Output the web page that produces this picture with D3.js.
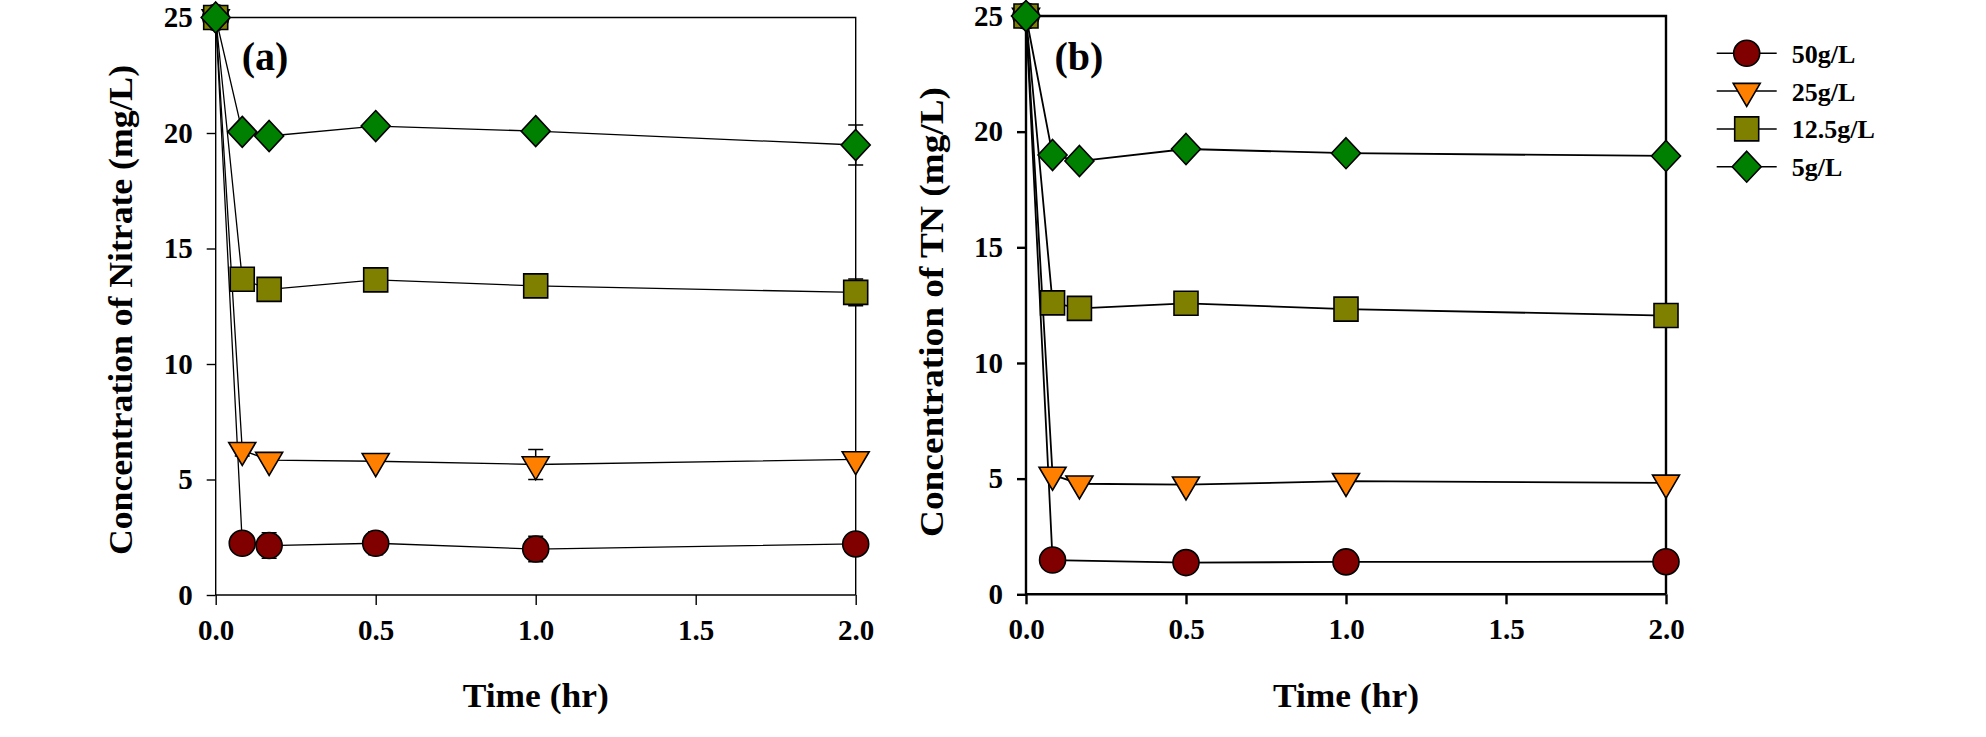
<!DOCTYPE html>
<html>
<head>
<meta charset="utf-8">
<script src="https://cdn.jsdelivr.net/npm/d3@7"></script>
<style>
  html, body { margin: 0; padding: 0; background: #fff; }
  svg { display: block; }
  text { font-family: "Liberation Serif", "Times New Roman", serif; font-weight: bold; fill: #000; }
</style>
</head>
<body>
<svg id="chart" width="1986" height="737"></svg>
<script>
// ---------- data ----------
const times = [0, 0.083, 0.167, 0.5, 1.0, 2.0];
const seriesNames = ["50g/L", "25g/L", "12.5g/L", "5g/L"];
const seriesColors = ["#800000", "#FF8000", "#808000", "#008000"];
const seriesSymbols = ["circle", "triangle", "square", "diamond"];

// (a) Nitrate
const nitrate50  = [25, 2.24, 2.14, 2.24, 1.99, 2.21];
const nitrate25  = [25, 6.27, 5.84, 5.79, 5.65, 5.87];
const nitrate125 = [25, 13.67, 13.23, 13.64, 13.38, 13.10];
const nitrate5   = [25, 20.05, 19.87, 20.30, 20.08, 19.48];
const nitrateErr50  = [0, 0, 0.55, 0.5, 0.55, 0];
const nitrateErr25  = [0, 0.25, 0, 0, 0.65, 0];
const nitrateErr125 = [0, 0, 0, 0, 0, 0.58];
const nitrateErr5   = [0, 0, 0, 0, 0, 0.87];

// (b) TN
const tn50  = [25, 1.48, null, 1.37, 1.40, 1.41];
const tn25  = [25, 5.16, 4.78, 4.74, 4.89, 4.82];
const tn125 = [25, 12.60, 12.36, 12.58, 12.33, 12.05];
const tn5   = [25, 18.99, 18.73, 19.25, 19.07, 18.95];

const xTicks = [0, 0.5, 1.0, 1.5, 2.0];
const yTicks = [0, 5, 10, 15, 20, 25];

// ---------- drawing ----------
const svg = d3.select("#chart");

function symbolPath(kind) {
  switch (kind) {
    case "circle":   return "M13,0A13,13 0 1,1 -13,0A13,13 0 1,1 13,0Z";
    case "triangle": return "M-13.5,-7.7L13.5,-7.7L0,15.3Z";
    case "square":   return "M-12,-12L12,-12L12,12L-12,12Z";
    case "diamond":  return "M0,-15.5L14.5,0L0,15.5L-14.5,0Z";
  }
}

function drawPanel(cfg) {
  const g = svg.append("g");
  const x = d3.scaleLinear().domain([0, 2]).range([cfg.x0, cfg.x1]);
  const y = d3.scaleLinear().domain([0, 25]).range([cfg.y0, cfg.y1]);

  // frame (top + right)
  g.append("path")
    .attr("d", `M${cfg.x0},${cfg.y1}H${cfg.x1}V${cfg.y0}`)
    .attr("fill", "none").attr("stroke", "#000").attr("stroke-width", cfg.frameW);

  // axes
  const xAxis = d3.axisBottom(x).tickValues(xTicks).tickSize(10).tickPadding(8)
    .tickFormat(d3.format(".1f"));
  const yAxis = d3.axisLeft(y).tickValues(yTicks).tickSize(9).tickPadding(14)
    .tickFormat(d3.format("d"));
  const gx = g.append("g").attr("transform", `translate(0,${cfg.y0})`).call(xAxis);
  const gy = g.append("g").attr("transform", `translate(${cfg.x0},0)`).call(yAxis);
  [gx, gy].forEach(a => {
    a.select(".domain").attr("stroke", "#000").attr("stroke-width", cfg.frameW);
    a.selectAll(".tick line").attr("stroke", "#000").attr("stroke-width", cfg.frameW);
    a.selectAll(".tick text").style("font-size", "29px").style("font-family", "Liberation Serif").style("font-weight", "bold");
  });
  gx.select(".domain").attr("d", `M${cfg.x0},0H${cfg.x1}`);
  gy.select(".domain").attr("d", `M0,${cfg.y0}V${cfg.y1}`);
  gx.selectAll(".tick text").attr("dy", "0.92em");

  // series
  cfg.series.forEach((vals, si) => {
    const pts = times.map((t, i) => ({ t, v: vals[i], e: cfg.errs ? cfg.errs[si][i] : 0 }))
      .filter(p => p.v !== null);
    const line = d3.line().x(p => x(p.t)).y(p => y(p.v));
    g.append("path").datum(pts).attr("d", line)
      .attr("fill", "none").attr("stroke", "#000").attr("stroke-width", cfg.lineW);
    // error bars
    pts.filter(p => p.e > 0).forEach(p => {
      const cx = x(p.t), yt = y(p.v + p.e), yb = y(p.v - p.e);
      g.append("path")
        .attr("d", `M${cx},${yt}V${yb}M${cx - 7.5},${yt}H${cx + 7.5}M${cx - 7.5},${yb}H${cx + 7.5}`)
        .attr("fill", "none").attr("stroke", "#000").attr("stroke-width", 1.5);
    });
    g.selectAll(null).data(pts).enter().append("path")
      .attr("transform", p => `translate(${x(p.t)},${y(p.v)})`)
      .attr("d", symbolPath(seriesSymbols[si]))
      .attr("fill", seriesColors[si]).attr("stroke", "#000").attr("stroke-width", 1.6);
  });

  // panel letter
  g.append("text").attr("x", cfg.letterX).attr("y", 70)
    .attr("text-anchor", "middle").style("font-size", "40px").text(cfg.letter);

  // axis titles
  g.append("text").attr("x", (cfg.x0 + cfg.x1) / 2).attr("y", 707)
    .attr("text-anchor", "middle").style("font-size", "33px")
    .attr("textLength", 146).attr("lengthAdjust", "spacingAndGlyphs")
    .text("Time (hr)");
  g.append("text")
    .attr("transform", `translate(${cfg.titleX},${cfg.titleY}) rotate(-90)`)
    .attr("text-anchor", "middle").style("font-size", "34px")
    .attr("textLength", cfg.titleLen).attr("lengthAdjust", "spacingAndGlyphs")
    .text(cfg.yTitle);
}

drawPanel({
  x0: 215.7, x1: 855.7, y0: 595, y1: 17.5, frameW: 1.4, lineW: 1.3,
  series: [nitrate50, nitrate25, nitrate125, nitrate5],
  errs: [nitrateErr50, nitrateErr25, nitrateErr125, nitrateErr5],
  letter: "(a)", letterX: 265,
  yTitle: "Concentration of Nitrate (mg/L)", titleX: 132, titleY: 310, titleLen: 490
});
drawPanel({
  x0: 1026, x1: 1666, y0: 594.3, y1: 16, frameW: 2.4, lineW: 1.8,
  series: [tn50, tn25, tn125, tn5],
  errs: null,
  letter: "(b)", letterX: 1079,
  yTitle: "Concentration of TN (mg/L)", titleX: 943, titleY: 312, titleLen: 450
});

// legend
const legend = svg.append("g");
seriesNames.forEach((name, i) => {
  const cy = 53.3 + i * 37.8;
  legend.append("path").attr("d", `M1716.7,${cy}H1776.7`).attr("stroke", "#000").attr("stroke-width", 1.5);
  legend.append("path").attr("transform", `translate(1746.7,${cy})`)
    .attr("d", symbolPath(seriesSymbols[i]))
    .attr("fill", seriesColors[i]).attr("stroke", "#000").attr("stroke-width", 1.6);
  legend.append("text").attr("x", 1791.7).attr("y", cy + 9.5)
    .style("font-size", "26px").text(name);
});
</script>
</body>
</html>
